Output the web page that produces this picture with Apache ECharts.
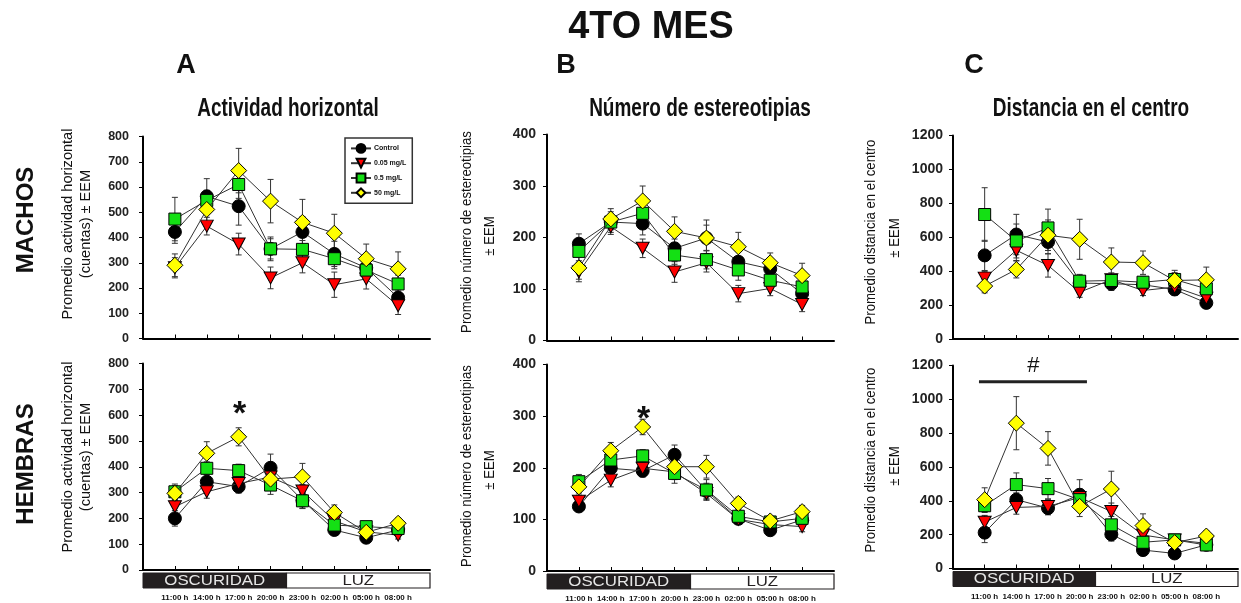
<!DOCTYPE html>
<html><head><meta charset="utf-8">
<script src="https://cdn.jsdelivr.net/npm/echarts@6/dist/echarts.min.js"></script>
<style>html,body{margin:0;padding:0;background:#fff}#c{width:1241px;height:603px}</style>
</head><body><div id="c"></div>
<script>
// ---------- DATA ----------
const timeLabels = ['11:00 h','14:00 h','17:00 h','20:00 h','23:00 h','02:00 h','05:00 h','08:00 h'];
const groupNames = ['Control','0.05 mg/L','0.5 mg/L','50 mg/L'];

// A - Actividad horizontal, machos
const actMachosControl = [422, 563, 524, 355, 422, 335, 280, 162];
const actMachosControlErr = [45, 70, 75, 40, 60, 50, 40, 30];
const actMachos005 = [280, 445, 374, 240, 300, 213, 236, 130];
const actMachos005Err = [40, 35, 43, 43, 40, 50, 40, 35];
const actMachos05 = [473, 547, 610, 355, 353, 316, 271, 216];
const actMachos05Err = [86, 40, 55, 47, 35, 40, 35, 35];
const actMachos50 = [290, 511, 665, 544, 460, 417, 316, 276];
const actMachos50Err = [45, 50, 88, 86, 91, 75, 58, 67];
// A - Actividad horizontal, hembras
const actHembrasControl = [200, 342, 323, 396, 270, 155, 125, 155];
const actHembrasControlErr = [30, 30, 25, 53, 30, 20, 20, 20];
const actHembras005 = [245, 303, 335, 360, 306, 190, 148, 135];
const actHembras005Err = [25, 25, 25, 30, 25, 20, 15, 15];
const actHembras05 = [303, 394, 385, 329, 268, 174, 168, 161];
const actHembras05Err = [30, 25, 25, 36, 30, 20, 15, 15];
const actHembras50 = [297, 452, 516, 352, 361, 223, 146, 181];
const actHembras50Err = [30, 45, 35, 30, 52, 29, 20, 20];
// B - Estereotipias, machos
const estMachosControl = [188, 230, 227, 179, 199, 153, 139, 91];
const estMachosControlErr = [19, 20, 22, 18, 25, 20, 18, 15];
const estMachos005 = [133, 221, 179, 133, 151, 91, 101, 70];
const estMachos005Err = [19, 15, 18, 20, 18, 16, 14, 14];
const estMachos05 = [173, 230, 247, 166, 157, 137, 117, 104];
const estMachos05Err = [18, 15, 20, 18, 18, 20, 15, 15];
const estMachos50 = [141, 236, 271, 212, 199, 182, 151, 126];
const estMachos50Err = [22, 20, 29, 28, 35, 28, 19, 24];
// B - Estereotipias, hembras
const estHembrasControl = [125, 199, 194, 225, 155, 101, 79, 99];
const estHembrasControlErr = [10, 15, 12, 19, 15, 8, 8, 10];
const estHembras005 = [135, 176, 199, 192, 150, 100, 90, 86];
const estHembras005Err = [12, 13, 12, 15, 12, 8, 8, 10];
const estHembras05 = [173, 215, 223, 189, 157, 106, 95, 102];
const estHembras05Err = [14, 15, 12, 19, 20, 10, 8, 10];
const estHembras50 = [163, 233, 279, 202, 202, 131, 97, 115];
const estHembras50Err = [12, 16, 15, 15, 22, 12, 8, 12];
// C - Distancia en el centro, machos
const disMachosControl = [493, 616, 572, 330, 326, 320, 292, 213];
const disMachosControlErr = [89, 119, 70, 40, 40, 35, 35, 30];
const disMachos005 = [359, 523, 434, 276, 350, 286, 306, 241];
const disMachos005Err = [40, 60, 69, 30, 40, 30, 30, 30];
const disMachos05 = [734, 578, 655, 341, 345, 335, 351, 296];
const disMachos05Err = [158, 100, 111, 40, 35, 35, 40, 40];
const disMachos50 = [312, 410, 612, 588, 454, 450, 345, 349];
const disMachos50Err = [40, 50, 90, 118, 83, 69, 60, 75];
// C - Distancia en el centro, hembras
const disHembrasControl = [212, 407, 357, 436, 202, 109, 89, 140];
const disHembrasControlErr = [59, 40, 40, 89, 40, 30, 25, 20];
const disHembras005 = [274, 361, 367, 420, 337, 198, 169, 149];
const disHembras005Err = [40, 40, 40, 50, 50, 30, 25, 20];
const disHembras05 = [371, 496, 472, 407, 258, 155, 169, 139];
const disHembras05Err = [40, 69, 60, 50, 50, 30, 30, 25];
const disHembras50 = [407, 859, 710, 367, 470, 254, 153, 192];
const disHembras50Err = [70, 157, 99, 60, 105, 69, 40, 30];

// ---------- LAYOUT ----------
const FONT = '"Liberation Sans", Arial, Helvetica, sans-serif';
const panels = [
  {g:{left:143, top:136.5, width:287, height:202}, max:800, interval:100, bottom:false, lblSize:12.5, lblMargin:14,
   s:[[actMachosControl,actMachosControlErr],[actMachos005,actMachos005Err],[actMachos05,actMachos05Err],[actMachos50,actMachos50Err]]},
  {g:{left:143, top:363.5, width:287, height:206.5}, max:800, interval:100, bottom:true, lblSize:12.5, lblMargin:14,
   s:[[actHembrasControl,actHembrasControlErr],[actHembras005,actHembras005Err],[actHembras05,actHembras05Err],[actHembras50,actHembras50Err]]},
  {g:{left:547, top:134.5, width:287, height:206}, max:400, interval:100, bottom:false, lblSize:14, lblMargin:11,
   s:[[estMachosControl,estMachosControlErr],[estMachos005,estMachos005Err],[estMachos05,estMachos05Err],[estMachos50,estMachos50Err]]},
  {g:{left:547, top:364.5, width:287, height:206.5}, max:400, interval:100, bottom:true, lblSize:14, lblMargin:11,
   s:[[estHembrasControl,estHembrasControlErr],[estHembras005,estHembras005Err],[estHembras05,estHembras05Err],[estHembras50,estHembras50Err]]},
  {g:{left:953, top:135.5, width:285, height:203.5}, max:1200, interval:200, bottom:false, lblSize:14, lblMargin:10,
   s:[[disMachosControl,disMachosControlErr],[disMachos005,disMachos005Err],[disMachos05,disMachos05Err],[disMachos50,disMachos50Err]]},
  {g:{left:953, top:365.5, width:285, height:203}, max:1200, interval:200, bottom:true, lblSize:14, lblMargin:10,
   s:[[disHembrasControl,disHembrasControlErr],[disHembras005,disHembras005Err],[disHembras05,disHembras05Err],[disHembras50,disHembras50Err]]}
];
const groupStyle = [
  {symbol:'circle', size:13, color:'#000000', rotate:0},
  {symbol:'triangle', size:[13,12], color:'#ff0000', rotate:180},
  {symbol:'rect', size:12, color:'#14e014', rotate:0},
  {symbol:'diamond', size:16, color:'#ffff00', rotate:0}
];
const tickVals = [1,2,3,4,5,6,7,8];

function errRender(params, api) {
  const x = api.value(0), y = api.value(1), e = api.value(2);
  const hi = api.coord([x, y + e]), lo = api.coord([x, y - e]);
  const c = 3, st = {stroke:'#333', lineWidth:1};
  return {type:'group', children:[
    {type:'line', shape:{x1:hi[0], y1:hi[1], x2:lo[0], y2:lo[1]}, style:st},
    {type:'line', shape:{x1:hi[0]-c, y1:hi[1], x2:hi[0]+c, y2:hi[1]}, style:st},
    {type:'line', shape:{x1:lo[0]-c, y1:lo[1], x2:lo[0]+c, y2:lo[1]}, style:st}
  ]};
}

const grid = [], xAxis = [], yAxis = [], series = [];
panels.forEach((p, pi) => {
  grid.push(Object.assign({containLabel:false}, p.g));
  xAxis.push({gridIndex:pi, type:'value', min:0, max:9, interval:1,
    axisLine:{show:true, onZero:false, lineStyle:{color:'#000', width:2}},
    axisTick:{show:true, inside:true, length:4, customValues:tickVals, lineStyle:{color:'#000', width:1}},
    axisLabel:{show:p.bottom, customValues:tickVals, formatter:v => timeLabels[v-1] || '',
      fontFamily:FONT, fontSize:8, fontWeight:'bold', color:'#111', margin:24},
    splitLine:{show:false}});
  yAxis.push({gridIndex:pi, type:'value', min:0, max:p.max, interval:p.interval,
    axisLine:{show:true, lineStyle:{color:'#000', width:2}},
    axisTick:{show:true, inside:false, length:4, lineStyle:{color:'#000', width:1}},
    axisLabel:{fontFamily:FONT, fontSize:p.lblSize, fontWeight:'bold', color:'#222', margin:p.lblMargin,
      formatter:v => String(v)},
    splitLine:{show:false}});
  p.s.forEach(([vals, errs]) => {
    series.push({type:'custom', name:'err', xAxisIndex:pi, yAxisIndex:pi, renderItem:errRender,
      encode:{x:0, y:1}, data:vals.map((v,i) => [i+1, v, errs[i]]), z:2, silent:true, animation:false});
  });
  p.s.forEach(([vals], gi) => {
    const s = groupStyle[gi];
    series.push({type:'line', name:groupNames[gi], xAxisIndex:pi, yAxisIndex:pi,
      data:vals.map((v,i) => [i+1, v]), symbol:s.symbol, symbolSize:s.size, symbolRotate:s.rotate,
      showAllSymbol:true, lineStyle:{color:'#333', width:1}, itemStyle:{color:s.color, borderColor:'#000', borderWidth:1},
      z:3+gi, emphasis:{disabled:true}, animation:false, silent:true});
  });
});

// pixel helper derived from grid definitions
function px(pi, x, v) {
  const p = panels[pi];
  return [p.g.left + x * p.g.width / 9, p.g.top + p.g.height - v / p.max * p.g.height];
}
function txt(text, x, y, font, o) {
  o = o || {};
  return {type:'text', x:x, y:y, rotation:o.rot || 0, scaleX:o.sx || 1, scaleY:1, z:50,
    style:{text:text, font:font, fill:o.fill || '#111', align:'center', verticalAlign:'middle'}};
}

const graphic = [];
graphic.push(txt('4TO MES', 651, 27, 'bold 39px ' + FONT, {sx:0.97}));
graphic.push(txt('A', 186, 66, 'bold 27px ' + FONT));
graphic.push(txt('B', 566, 66, 'bold 27px ' + FONT));
graphic.push(txt('C', 974, 66, 'bold 27px ' + FONT));
graphic.push(txt('Actividad horizontal', 288, 109, 'bold 25px ' + FONT, {sx:0.76}));
graphic.push(txt('Número de estereotipias', 700, 109, 'bold 25px ' + FONT, {sx:0.76}));
graphic.push(txt('Distancia en el centro', 1091, 109, 'bold 25px ' + FONT, {sx:0.76}));
const R = Math.PI / 2;
graphic.push(txt('MACHOS', 26, 220, 'bold 24px ' + FONT, {rot:R}));
graphic.push(txt('HEMBRAS', 26, 464, 'bold 24px ' + FONT, {rot:R}));
[224, 457].forEach(cy => {
  graphic.push(txt('Promedio actividad horizontal', 68, cy, '15px ' + FONT, {rot:R, sx:0.97}));
  graphic.push(txt('(cuentas) ± EEM', 86, cy, '15px ' + FONT, {rot:R, sx:0.97}));
});
[232, 466].forEach(cy => {
  graphic.push(txt('Promedio número de estereotipias', 467, cy, '15px ' + FONT, {rot:R, sx:0.88}));
  graphic.push(txt('± EEM', 490, cy + 4, '15px ' + FONT, {rot:R, sx:0.88}));
});
[232, 460].forEach(cy => {
  graphic.push(txt('Promedio distancia en el centro', 871, cy, '15px ' + FONT, {rot:R, sx:0.88}));
  graphic.push(txt('± EEM', 895, cy + 6, '15px ' + FONT, {rot:R, sx:0.88}));
});
// OSCURIDAD / LUZ bars under bottom row
[1, 3, 5].forEach(pi => {
  const a = px(pi, 0, 0), m = px(pi, 4.5, 0), b = px(pi, 9, 0);
  const y0 = a[1] + 3, h = 15;
  graphic.push({type:'rect', shape:{x:a[0], y:y0, width:m[0]-a[0], height:h}, style:{fill:'#231f20', stroke:'#231f20', lineWidth:1}, z:40});
  graphic.push({type:'rect', shape:{x:m[0], y:y0, width:b[0]-m[0], height:h}, style:{fill:'#fff', stroke:'#231f20', lineWidth:1.2}, z:40});
  graphic.push(txt('OSCURIDAD', (a[0]+m[0])/2, y0 + h/2 + 0.5, '14px ' + FONT, {sx:1.2, fill:'#e6e6e6'}));
  graphic.push(txt('LUZ', (m[0]+b[0])/2, y0 + h/2 + 0.5, '14px ' + FONT, {sx:1.2, fill:'#231f20'}));
});
// significance marks
const sA = px(1, 3, 625), sB = px(3, 3, 305);
graphic.push(txt('*', sA[0] + 1, sA[1] + 6, 'bold 34px ' + FONT));
graphic.push(txt('*', sB[0] + 1, sB[1] + 6, 'bold 34px ' + FONT));
const h1 = px(5, 0.82, 1104), h2 = px(5, 4.23, 1104), hc = px(5, 2.54, 1195);
graphic.push({type:'line', shape:{x1:h1[0], y1:h1[1], x2:h2[0], y2:h2[1]}, style:{stroke:'#222', lineWidth:3}, z:40});
graphic.push(txt('#', hc[0], hc[1], '22px ' + FONT));

const chart = echarts.init(document.getElementById('c'), null, {renderer:'canvas'});
chart.setOption({
  backgroundColor:'#ffffff',
  animation:false,
  grid:grid, xAxis:xAxis, yAxis:yAxis, series:series, graphic:graphic,
  legend:{show:true, data:groupNames, left:345, top:138, orient:'vertical', itemWidth:20, itemHeight:11, itemGap:4,
    padding:[5,6,5,5], borderColor:'#333', borderWidth:1.5, backgroundColor:'#fff', selectedMode:false,
    textStyle:{fontFamily:FONT, fontSize:7, fontWeight:'bold', color:'#111', padding:[0,0,0,-2]}}
});
</script></body></html>
